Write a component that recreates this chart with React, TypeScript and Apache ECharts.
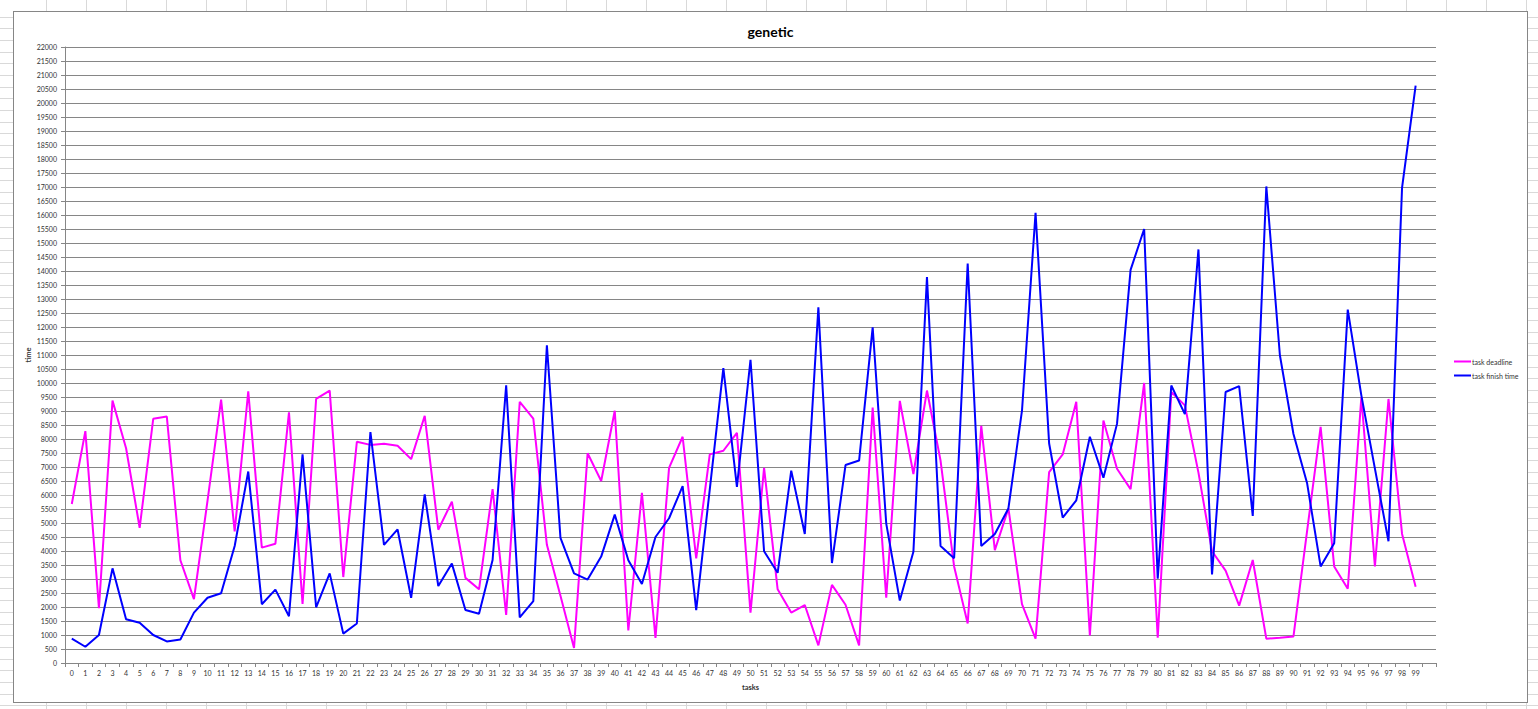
import React, { useEffect, useRef } from "react";
import * as echarts from "echarts";

const tasks = [
  "0","1","2","3","4","5","6","7","8","9",
  "10","11","12","13","14","15","16","17","18","19",
  "20","21","22","23","24","25","26","27","28","29",
  "30","31","32","33","34","35","36","37","38","39",
  "40","41","42","43","44","45","46","47","48","49",
  "50","51","52","53","54","55","56","57","58","59",
  "60","61","62","63","64","65","66","67","68","69",
  "70","71","72","73","74","75","76","77","78","79",
  "80","81","82","83","84","85","86","87","88","89",
  "90","91","92","93","94","95","96","97","98","99",
  "",
];

const taskDeadline = [
  5680, 8280, 1960, 9370, 7670, 4830, 8720, 8800, 3670, 2280,
  5800, 9410, 4700, 9700, 4120, 4260, 8950, 2110, 9430, 9730,
  3070, 7900, 7790, 7830, 7760, 7280, 8830, 4760, 5760, 3040,
  2630, 6210, 1720, 9330, 8730, 4220, 2400, 540, 7490, 6500,
  9010, 1160, 6080, 900, 6970, 8080, 3740, 7450, 7580, 8220,
  1800, 6970, 2630, 1800, 2070, 630, 2790, 2080, 630, 9120,
  2330, 9360, 6750, 9730, 7230, 3450, 1410, 8470, 4030, 5520,
  2100, 870, 6820, 7450, 9330, 980, 8660, 6940, 6210, 10000,
  900, 9680, 9200, 6800, 3990, 3300, 2050, 3680, 870, 900,
  950, 4700, 8430, 3450, 2650, 9490, 3450, 9430, 4610, 2720,
];

const taskFinishTime = [
  870, 580, 1000, 3380, 1560, 1440, 1000, 770, 840, 1800,
  2330, 2490, 4180, 6840, 2100, 2620, 1670, 7450, 1990, 3200,
  1050, 1410, 8250, 4220, 4770, 2330, 6020, 2750, 3550, 1890,
  1760, 3680, 9920, 1630, 2210, 11350, 4470, 3200, 2980, 3800,
  5300, 3670, 2820, 4500, 5170, 6320, 1890, 6200, 10530, 6290,
  10830, 3990, 3220, 6870, 4610, 12700, 3570, 7070, 7230, 11990,
  4980, 2230, 3970, 13780, 4180, 3740, 14270, 4180, 4610, 5520,
  9010, 16080, 7840, 5190, 5810, 8080, 6620, 8540, 14040, 15500,
  3010, 9910, 8890, 14770, 3160, 9680, 9890, 5250, 17020, 10990,
  8180, 6430, 3450, 4280, 12620, 9560, 6940, 4350, 16980, 20620,
];

const FONT = "Lato, 'Open Sans', sans-serif";

export default function App() {
  const ref = useRef<HTMLDivElement>(null);

  useEffect(() => {
    document.body.style.margin = "0";
    if (!ref.current) return;
    const chart = echarts.init(ref.current, null, { renderer: "svg" });
    chart.setOption({
      animation: false,
      title: {
        text: "genetic",
        left: "center",
        top: 7,
        textStyle: { fontFamily: FONT, fontWeight: "bold", fontSize: 14, color: "#000" },
      },
      legend: {
        orient: "vertical",
        left: 1435,
        top: 341,
        itemWidth: 17,
        itemHeight: 2,
        itemGap: 7,
        icon: "rect",
        textStyle: { fontFamily: FONT, fontSize: 7, color: "#333", padding: [0, 0, 0, -4] },
        data: ["task deadline", "task finish time"],
      },
      grid: { left: 51, right: 91, top: 35, bottom: 39, containLabel: false, outerBoundsMode: "none" },
      xAxis: {
        type: "category",
        data: tasks,
        boundaryGap: true,
        name: "tasks",
        nameLocation: "middle",
        nameGap: 20,
        nameMoveOverlap: false,
        nameTextStyle: { fontFamily: FONT, fontWeight: "bold", fontSize: 7.5, color: "#333" },
        axisLine: { lineStyle: { color: "#868686", width: 1 } },
        axisTick: { show: true, length: 4, interval: 0, lineStyle: { color: "#868686" } },
        axisLabel: { interval: 0, fontFamily: FONT, fontSize: 7, color: "#333", margin: 6 },
        splitLine: { show: false },
      },
      yAxis: {
        type: "value",
        min: 0,
        max: 22000,
        interval: 500,
        name: "time",
        nameLocation: "middle",
        nameGap: 33,
        nameRotate: 90,
        nameMoveOverlap: false,
        nameTextStyle: { fontFamily: FONT, fontWeight: "bold", fontSize: 7.5, color: "#333" },
        axisLine: { show: true, lineStyle: { color: "#868686", width: 1 } },
        axisTick: { show: true, length: 4, lineStyle: { color: "#868686" } },
        axisLabel: {
          fontFamily: FONT,
          fontSize: 7,
          color: "#333",
          margin: 8,
          formatter: (v: number) => String(v),
        },
        splitLine: { show: true, lineStyle: { color: "#868686", width: 1 } },
      },
      series: [
        {
          name: "task deadline",
          type: "line",
          data: taskDeadline,
          showSymbol: false,
          symbol: "none",
          itemStyle: { color: "#ff00ff" },
          lineStyle: { color: "#ff00ff", width: 2 },
        },
        {
          name: "task finish time",
          type: "line",
          data: taskFinishTime,
          showSymbol: false,
          symbol: "none",
          itemStyle: { color: "#0000ff" },
          lineStyle: { color: "#0000ff", width: 2 },
        },
      ],
    });
    return () => chart.dispose();
  }, []);

  return (
    <div
      style={{
        position: "relative",
        width: 1538,
        height: 709,
        overflow: "hidden",
        backgroundColor: "#fff",
        backgroundImage:
          "repeating-linear-gradient(to bottom, transparent 0px, transparent 10.67px, #d9d9d9 10.67px, #d9d9d9 11.67px), repeating-linear-gradient(to right, transparent 0px, transparent 39px, #d9d9d9 39px, #d9d9d9 40px)",
        backgroundPosition: "0px 6px, 7px 0px",
      }}
    >
      <div
        style={{
          position: "absolute",
          left: 13,
          top: 11,
          width: 1515,
          height: 692,
          boxSizing: "border-box",
          border: "1px solid #868686",
          background: "#fff",
        }}
      >
        <div ref={ref} style={{ width: 1513, height: 690 }} />
      </div>
    </div>
  );
}
